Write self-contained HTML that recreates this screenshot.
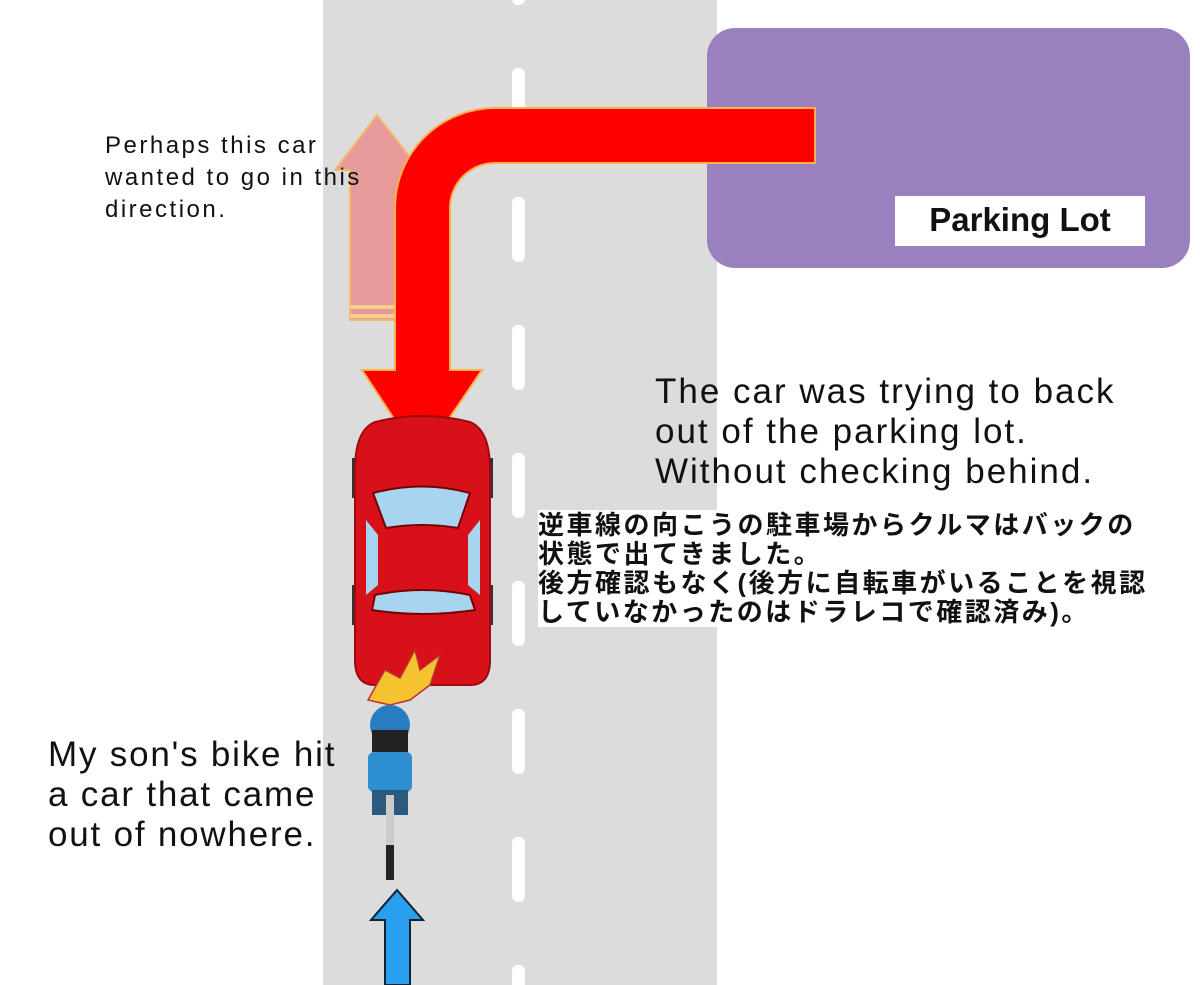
<!DOCTYPE html>
<html><head><meta charset="utf-8"><style>
body{margin:0;width:1200px;height:985px;background:#fff;position:relative;overflow:hidden;font-family:"Liberation Sans","Noto Sans CJK JP",sans-serif}
.t{position:absolute;color:#111;white-space:nowrap}
</style></head><body>
<svg width="1200" height="985" style="position:absolute;left:0;top:0">
<rect x="323" y="0" width="394" height="985" fill="#dcdcdc"/>
<g fill="#fff">
<rect x="512" y="-60" width="13" height="65" rx="6"/>
<rect x="512" y="68" width="13" height="65" rx="6"/>
<rect x="512" y="197" width="13" height="65" rx="6"/>
<rect x="512" y="325" width="13" height="65" rx="6"/>
<rect x="512" y="453" width="13" height="65" rx="6"/>
<rect x="512" y="581" width="13" height="65" rx="6"/>
<rect x="512" y="709" width="13" height="65" rx="6"/>
<rect x="512" y="837" width="13" height="65" rx="6"/>
<rect x="512" y="965" width="13" height="65" rx="6"/>
</g>
<rect x="707" y="28" width="483" height="240" rx="28" fill="#9b80bf"/>
<path d="M350 320 V170 H335 L377 115 L420 170 H405 V320 Z" fill="#e79a9a" stroke="#f3b96a" stroke-width="2"/>
<rect x="350" y="305" width="55" height="4" fill="#f6d08a"/>
<rect x="350" y="314" width="55" height="4" fill="#f6d08a"/>
<path d="M815 108 V163 H495 A45 45 0 0 0 450 208 V370 H482 L421 460 L362 370 H395 V208 A100 100 0 0 1 495 108 Z" fill="#ff0000" stroke="#f7b24a" stroke-width="2"/>
<rect x="352" y="458" width="8" height="40" fill="#333"/><rect x="485" y="458" width="8" height="40" fill="#333"/>
<rect x="352" y="585" width="8" height="40" fill="#333"/><rect x="485" y="585" width="8" height="40" fill="#333"/>
<path d="M375 422 Q422 410 470 422 Q490 430 490 470 V660 Q490 685 470 685 H375 Q355 685 355 660 V470 Q355 430 375 422 Z" fill="#d8101a" stroke="#9a0a10" stroke-width="2"/>
<path d="M373 493 Q422 480 470 493 L458 528 Q422 522 386 528 Z" fill="#a8d4f0" stroke="#700" stroke-width="2"/>
<path d="M375 595 Q422 585 470 595 L475 610 Q422 618 372 610 Z" fill="#a8d4f0" stroke="#700" stroke-width="2"/>
<path d="M366 520 L378 535 V585 L366 595 Z" fill="#a8d4f0"/><path d="M480 520 L468 535 V585 L480 595 Z" fill="#a8d4f0"/>
<polygon points="368,700 385,670 400,678 415,650 420,670 440,655 430,685 410,700 390,705" fill="#f6c330" stroke="#b33" stroke-width="1.5"/>
<circle cx="390" cy="725" r="20" fill="#2a7cc0"/>
<rect x="372" y="730" width="36" height="22" fill="#222"/>
<rect x="368" y="752" width="44" height="40" rx="6" fill="#2d8ed0"/>
<rect x="372" y="790" width="36" height="25" fill="#2a5a80"/>
<rect x="386" y="795" width="8" height="85" fill="#ccc"/>
<rect x="386" y="845" width="8" height="35" fill="#222"/>
<path d="M385 985 V920 H371 L397 890 L423 920 H410 V985 Z" fill="#29a0ef" stroke="#123" stroke-width="2"/>
</svg>
<div class="t" style="left:105px;top:130px;font-size:24px;line-height:32px;letter-spacing:2.5px">Perhaps this car<br>wanted to go in this<br>direction.</div>
<div class="t" style="left:895px;top:196px;width:250px;height:50px;background:#fff;font-weight:bold;font-size:33px;line-height:48px;text-align:center">Parking Lot</div>
<div class="t" style="left:655px;top:372px;font-size:35px;line-height:40px;letter-spacing:2px">The car was trying to back<br>out of the parking lot.<br>Without checking behind.</div>
<div class="t" style="left:538px;top:511px;font-size:26px;line-height:29px;font-weight:bold;letter-spacing:2.5px"><span style="background:#fff">逆車線の向こうの駐車場からクルマはバックの</span><br><span style="background:#fff">状態で出てきました。</span><br><span style="background:#fff">後方確認もなく(後方に自転車がいることを視認</span><br><span style="background:#fff">していなかったのはドラレコで確認済み)。</span></div>
<div class="t" style="left:48px;top:735px;font-size:35px;line-height:40px;letter-spacing:1.8px">My son's bike hit<br>a car that came<br>out of nowhere.</div>
</body></html>
